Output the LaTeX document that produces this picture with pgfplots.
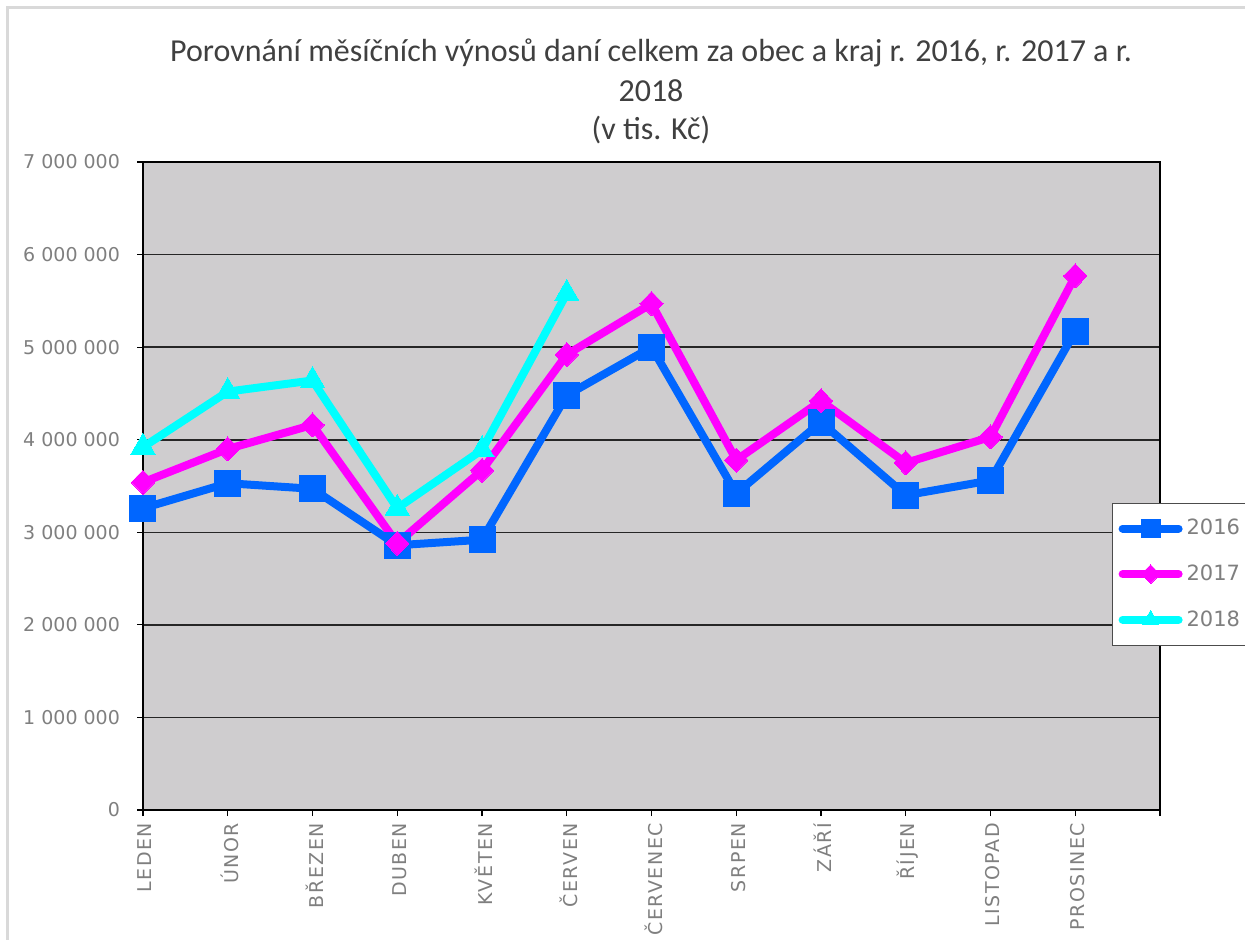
\documentclass[border=0pt]{standalone}
\usepackage{pgfplots}
\pgfplotsset{compat=1.18}
\usepackage{fontspec}
\setmainfont{DejaVu Sans}
\newfontfamily\titlefont{Carlito}
\newfontfamily\xlabfont[LetterSpace=8]{DejaVu Sans}

\definecolor{c2016}{HTML}{0066FF}
\definecolor{c2017}{HTML}{FF00FF}
\definecolor{c2018}{HTML}{00FFFF}
\definecolor{plotbg}{HTML}{CFCDCF}
\definecolor{ticktext}{HTML}{7F7F7F}
\definecolor{titletext}{HTML}{404040}

\begin{document}
\begin{tikzpicture}
% 1 px of the reference = 0.5pt, axis box at (0,0)
\useasboundingbox (-71.5pt,-64.5pt) rectangle (551pt,405pt);
\draw[gray!30, line width=1.5pt] (-67.5pt,-70pt) -- (-67.5pt,401pt) -- (560pt,401pt);
\begin{axis}[
  scale only axis,
  width=508.5pt, height=324pt,
  axis background/.style={fill=plotbg},
  xmin=0, xmax=12, ymin=0, ymax=7000000,
  scaled y ticks=false,
  xtick pos=bottom, ytick pos=left,
  xtick={0,...,12},
  xticklabels={LEDEN,ÚNOR,BŘEZEN,DUBEN,KVĚTEN,ČERVEN,ČERVENEC,SRPEN,ZÁŘÍ,ŘÍJEN,LISTOPAD,PROSINEC,},
  xticklabel style={rotate=90, anchor=east, font=\xlabfont\fontsize{9.5}{11}\selectfont, text=ticktext, yshift=-1pt},
  ytick={0,1000000,...,7000000},
  yticklabels={0,1 000 000,2 000 000,3 000 000,4 000 000,5 000 000,6 000 000,7 000 000},
  yticklabel style={font=\fontsize{9.5}{11}\selectfont, text=ticktext, xshift=-5pt},
  tick align=outside, major tick length=3pt,
  tick style={black, line width=0.6pt},
  axis line style={black, line width=0.8pt},
  ymajorgrids, grid style={black!85, line width=0.8pt},
  clip=false,
  legend cell align=left,
  legend style={at={(0.953,0.474)}, anchor=north west, draw=black!70, fill=white,
    font=\fontsize{10.5}{12}\selectfont, text=ticktext, row sep=9.5pt,
    inner xsep=3pt, inner ysep=6pt},
  legend image code/.code={\draw[#1, mark repeat=2, mark phase=2, mark size=4.7pt]
    plot coordinates {(0pt,0pt)(14pt,0pt)(28pt,0pt)};},
]
\addplot[c2016, line width=4pt, line join=round, line cap=round, mark=square*, mark size=6.5pt,
  mark options={solid, fill=c2016, line width=0pt}] coordinates {
  (0,3260000) (1,3530000) (2,3470000) (3,2860000) (4,2920000) (5,4480000)
  (6,5000000) (7,3420000) (8,4190000) (9,3400000) (10,3560000) (11,5170000)
};
\addlegendentry{2016}
\addplot[c2017, line width=4pt, line join=round, line cap=round, mark=diamond*, mark size=6pt,
  mark options={solid, fill=c2017, line width=0pt, xscale=1.3}] coordinates {
  (0,3540000) (1,3900000) (2,4160000) (3,2880000) (4,3670000) (5,4920000)
  (6,5470000) (7,3780000) (8,4420000) (9,3750000) (10,4030000) (11,5770000)
};
\addlegendentry{2017}
\addplot[c2018, line width=4pt, line join=round, line cap=round, mark=triangle*, mark size=7pt,
  mark options={solid, fill=c2018, line width=0pt}] coordinates {
  (0,3920000) (1,4520000) (2,4640000) (3,3260000) (4,3890000) (5,5580000)
};
\addlegendentry{2018}
\end{axis}
\node[font=\titlefont\fontsize{16}{18}\selectfont, text=titletext] at (254pt,378.5pt)
  {Porovnání měsíčních výnosů daní celkem za obec a kraj r. 2016, r. 2017 a r.};
\node[font=\titlefont\fontsize{16}{18}\selectfont, text=titletext] at (254pt,359.5pt) {2018};
\node[font=\titlefont\fontsize{16}{18}\selectfont, text=titletext] at (254pt,340pt) {(v tis. Kč)};
\end{tikzpicture}
\end{document}
